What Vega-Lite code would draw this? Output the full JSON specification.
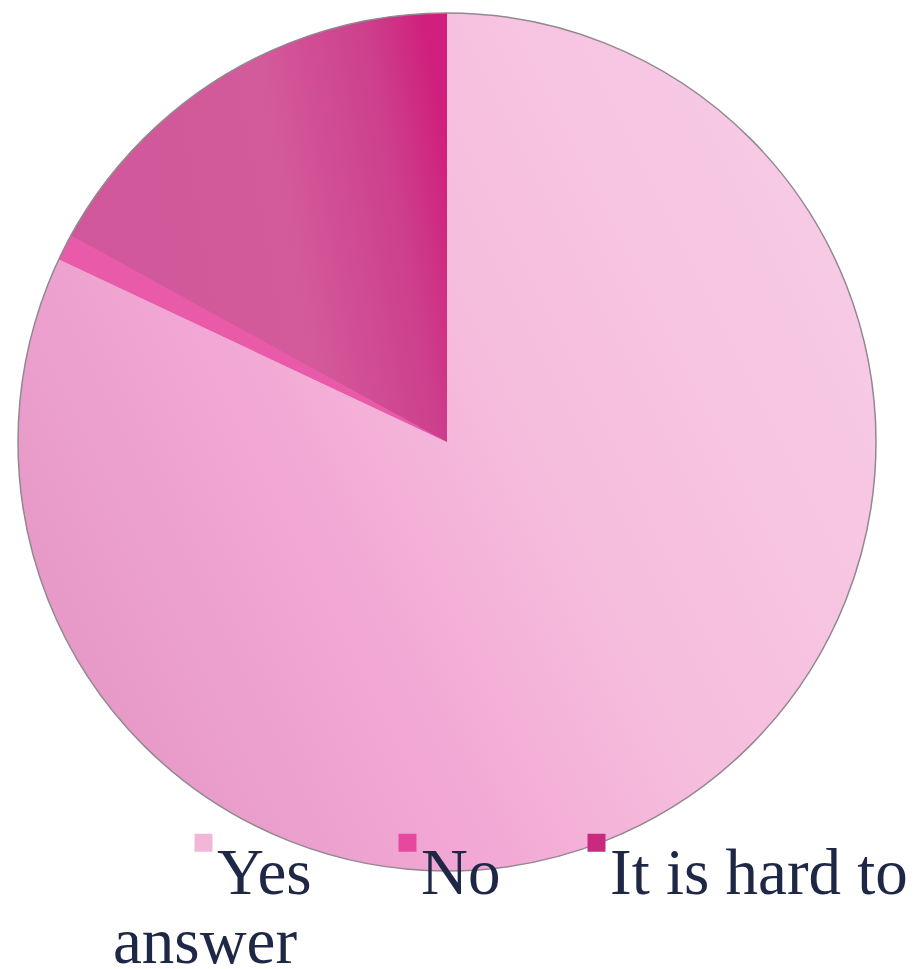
{
  "$schema": "https://vega.github.io/schema/vega-lite/v6.json",
  "width": 894,
  "height": 884,
  "autosize": {"type": "none"},
  "padding": {"left": 0, "top": 0, "right": 20, "bottom": 85},
  "background": "white",
  "config": {"view": {"stroke": null}},
  "title": {
    "text": "answer",
    "orient": "bottom",
    "anchor": "start",
    "frame": "group",
    "font": "Liberation Serif",
    "fontSize": 65,
    "fontWeight": "normal",
    "color": "#1f2747",
    "baseline": "alphabetic",
    "offset": 56,
    "dx": 113
  },
  "data": {
    "values": [
      {"answer": "Yes", "pct": 82},
      {"answer": "No", "pct": 1},
      {"answer": "It is hard to answer", "pct": 17}
    ]
  },
  "layer": [
    {
      "mark": {"type": "arc", "outerRadius": 429, "stroke": null},
      "encoding": {
        "theta": {"field": "pct", "type": "quantitative", "stack": true},
        "order": {"field": "answer", "sort": "descending"},
        "color": {
          "field": "answer",
          "type": "nominal",
          "scale": {
            "domain": ["Yes", "No", "It is hard to answer"],
            "range": ["#f2b6d8", "#e6489e", "#c92a80"]
          },
          "legend": {
            "title": null,
            "orient": "none",
            "direction": "horizontal",
            "legendX": 171,
            "legendY": 810,
            "symbolType": "square",
            "symbolSize": 324,
            "symbolStrokeWidth": 0,
            "labelFont": "Liberation Serif",
            "labelFontSize": 65,
            "labelColor": "#1f2747",
            "labelBaseline": "top",
            "labelOffset": -19,
            "labelLimit": 0,
            "columnPadding": 63,
            "labelExpr": "datum.label == 'It is hard to answer' ? 'It is hard to' : datum.label"
          }
        }
      }
    },
    {
      "transform": [
        {"stack": "pct", "groupby": [], "sort": [{"field": "answer", "order": "descending"}], "as": ["s0", "s1"]},
        {"filter": "datum.answer == 'Yes'"}
      ],
      "mark": {
        "type": "arc",
        "outerRadius": 429,
        "stroke": null,
        "fill": {
          "gradient": "linear",
          "x1": 0, "y1": 0.8, "x2": 1, "y2": 0.3,
          "stops": [
            {"offset": 0, "color": "#e496c3"},
            {"offset": 0.35, "color": "#f2a7d4"},
            {"offset": 0.6, "color": "#f6bddd"},
            {"offset": 1, "color": "#f7cbe5"}
          ]
        }
      },
      "encoding": {
        "theta": {"field": "s0", "type": "quantitative"},
        "theta2": {"field": "s1"}
      }
    },
    {
      "transform": [
        {"stack": "pct", "groupby": [], "sort": [{"field": "answer", "order": "descending"}], "as": ["s0", "s1"]},
        {"filter": "datum.answer == 'No'"}
      ],
      "mark": {"type": "arc", "outerRadius": 429, "stroke": null, "fill": "#e95aa8"},
      "encoding": {
        "theta": {"field": "s0", "type": "quantitative"},
        "theta2": {"field": "s1"}
      }
    },
    {
      "transform": [
        {"stack": "pct", "groupby": [], "sort": [{"field": "answer", "order": "descending"}], "as": ["s0", "s1"]},
        {"filter": "datum.answer == 'It is hard to answer'"}
      ],
      "mark": {
        "type": "arc",
        "outerRadius": 429,
        "stroke": null,
        "fill": {
          "gradient": "linear",
          "x1": 0, "y1": 0.5, "x2": 1, "y2": 0.3,
          "stops": [
            {"offset": 0, "color": "#d0579a"},
            {"offset": 0.55, "color": "#d35b9b"},
            {"offset": 0.85, "color": "#cd3f8c"},
            {"offset": 1, "color": "#d01f7c"}
          ]
        }
      },
      "encoding": {
        "theta": {"field": "s0", "type": "quantitative"},
        "theta2": {"field": "s1"}
      }
    },
    {
      "mark": {"type": "arc", "outerRadius": 429, "fill": null, "stroke": "#938891", "strokeWidth": 1.5},
      "encoding": {
        "theta": {"aggregate": "sum", "field": "pct", "type": "quantitative", "stack": true}
      }
    }
  ]
}
